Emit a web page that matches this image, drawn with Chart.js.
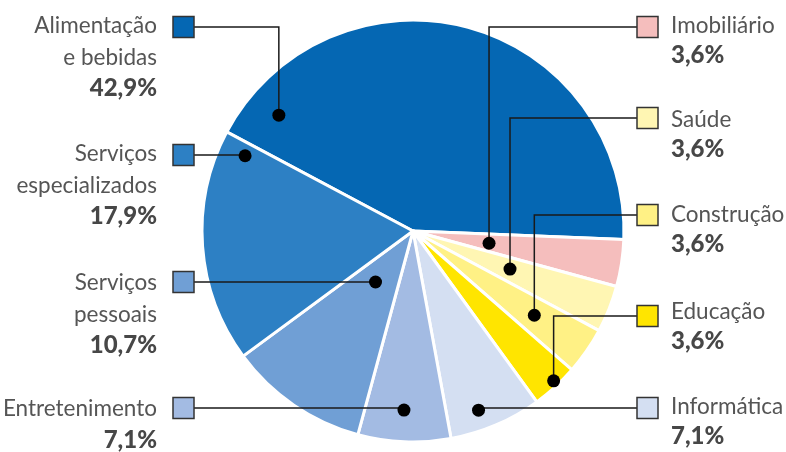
<!DOCTYPE html>
<html>
<head>
<meta charset="utf-8">
<script src="https://cdn.jsdelivr.net/npm/chart.js@4.4.1/dist/chart.umd.min.js"></script>
<style>
  html, body { margin: 0; padding: 0; background: #fff; }
  #wrap { width: 786px; height: 452px; }
</style>
</head>
<body>
<div id="wrap"><canvas id="pieChart" width="786" height="452"></canvas></div>
<script>
// setores, no sentido horário a partir de Alimentação
var categories = [
  'Alimentação\ne bebidas',
  'Imobiliário',
  'Saúde',
  'Construção',
  'Educação',
  'Informática',
  'Entretenimento',
  'Serviços\npessoais',
  'Serviços\nespecializados',
];
var shares = [42.9, 3.6, 3.6, 3.6, 3.6, 7.1, 7.1, 10.7, 17.9];

var colors = [
  '#0567b3', '#f5bebd', '#fff6b3', '#fff185', '#ffe500',
  '#d4dff2', '#a3bbe3', '#709fd5', '#2d80c4',
];

// chamadas: lado, y do quadrado, y da 1a linha de texto,
// posição do ponto dentro do setor (fração do ângulo, fração do raio)
var callouts = [
  { side: 'L', boxY: 27, textY: 33, t: 0.083, r: 0.84 },
  { side: 'R', boxY: 27, textY: 33, t: 0.53, r: 0.365 },
  { side: 'R', boxY: 118, textY: 127, t: 0.48, r: 0.494 },
  { side: 'R', boxY: 215, textY: 222, t: 0.51, r: 0.70 },
  { side: 'R', boxY: 316, textY: 319, t: 0.44, r: 0.974 },
  { side: 'R', boxY: 408, textY: 414, t: 0.62, r: 0.904 },
  { side: 'L', boxY: 408, textY: 416, t: 0.52, r: 0.85 },
  { side: 'L', boxY: 282, textY: 290, t: 0.55, r: 0.30 },
  { side: 'L', boxY: 155, textY: 161, t: 0.94, r: 0.872 },
];

var calloutPlugin = {
  id: 'callouts',
  afterDraw: function (chart) {
    var ctx = chart.ctx;
    var meta = chart.getDatasetMeta(0);
    var box = 21;
    ctx.save();
    callouts.forEach(function (c, i) {
      var p = meta.data[i].getProps(['x', 'y', 'startAngle', 'endAngle', 'outerRadius'], true);
      var a = p.startAngle + (p.endAngle - p.startAngle) * c.t;
      var dx = p.x + Math.cos(a) * p.outerRadius * c.r;
      var dy = p.y + Math.sin(a) * p.outerRadius * c.r;

      var boxX = c.side === 'L' ? 173 : 637;
      var lineStart = c.side === 'L' ? boxX + box : boxX;

      // linha
      ctx.strokeStyle = '#1a1a1a';
      ctx.lineWidth = 1.5;
      ctx.beginPath();
      ctx.moveTo(lineStart, c.boxY);
      ctx.lineTo(dx, c.boxY);
      ctx.lineTo(dx, dy);
      ctx.stroke();

      // ponto
      ctx.fillStyle = '#000';
      ctx.beginPath();
      ctx.arc(dx, dy, 6.5, 0, Math.PI * 2);
      ctx.fill();

      // quadrado
      ctx.fillStyle = colors[i];
      ctx.fillRect(boxX, c.boxY - box / 2, box, box);
      ctx.strokeStyle = '#333';
      ctx.lineWidth = 1.5;
      ctx.strokeRect(boxX, c.boxY - box / 2, box, box);

      // texto
      var lines = categories[i].split('\n');
      var lh = c.side === 'L' ? 31.5 : 30;
      var tx = c.side === 'L' ? 157 : 671;
      ctx.textAlign = c.side === 'L' ? 'right' : 'left';
      ctx.textBaseline = 'alphabetic';
      ctx.fillStyle = '#555';
      ctx.font = '22.5px Lato';
      lines.forEach(function (ln, k) {
        ctx.fillText(ln, tx, c.textY + k * lh);
      });
      ctx.fillStyle = '#474747';
      ctx.font = '900 24px Lato';
      ctx.fillText(shares[i].toFixed(1).replace('.', ',') + '%', tx, c.textY + lines.length * lh);
    });
    ctx.restore();
  },
};

var ctx = document.getElementById('pieChart').getContext('2d');
var pieChart = new Chart(ctx, {
  type: 'pie',
  data: {
    labels: categories,
    datasets: [
      {
        data: shares,
        backgroundColor: colors,
        borderColor: '#fff',
        borderWidth: 3,
      },
    ],
  },
  options: {
    responsive: false,
    animation: false,
    rotation: -62,
    radius: 211,
    layout: { padding: { left: 203, right: 163, top: 21, bottom: 11 } },
    plugins: {
      legend: { display: false },
      tooltip: { enabled: false },
    },
  },
  plugins: [calloutPlugin],
});
</script>
</body>
</html>
